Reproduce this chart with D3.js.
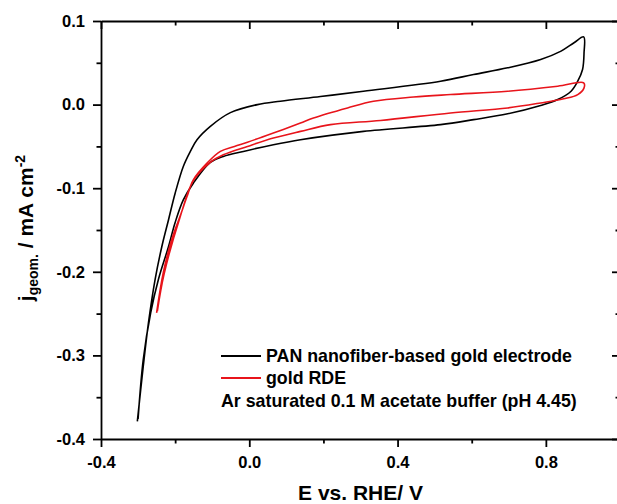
<!DOCTYPE html>
<html>
<head>
  <meta charset="utf-8">
  <title>CV - PAN nanofiber gold electrode vs gold RDE</title>
  <script src="https://d3js.org/d3.v7.min.js"></script>
  <style>
    body { margin: 0; background: #fff; }
    text { font-family: "Liberation Sans", Arial, sans-serif; font-weight: bold; fill: #000; }
    .axis path, .axis line { stroke: #000; stroke-width: 1.8; }
  </style>
</head>
<body>
<svg id="chart" width="617" height="504"></svg>
<script>
// PAN nanofiber-based gold electrode, one full cycle (anodic then cathodic)
var panE = [-0.302, -0.286, -0.272, -0.254, -0.236, -0.218, -0.200, -0.178, -0.159, -0.141, -0.105, -0.051,
            0.022, 0.084, 0.192, 0.308, 0.516, 0.605, 0.697, 0.786, 0.841, 0.876, 0.902,
            0.903, 0.899, 0.886, 0.868, 0.832, 0.786, 0.697, 0.605, 0.516, 0.308, 0.138, 0.065,
            -0.016, -0.070, -0.105, -0.151, -0.178, -0.200, -0.218, -0.245, -0.266, -0.286, -0.300];
var panJ = [-0.379, -0.313, -0.261, -0.209, -0.170, -0.138, -0.106, -0.074, -0.056, -0.042, -0.026, -0.0096,
            0.000, 0.004, 0.0096, 0.016, 0.028, 0.036, 0.044, 0.054, 0.064, 0.074, 0.081,
            0.062, 0.042, 0.028, 0.016, 0.006, -0.001, -0.011, -0.018, -0.024, -0.032, -0.042, -0.048,
            -0.056, -0.062, -0.069, -0.094, -0.114, -0.141, -0.170, -0.209, -0.249, -0.305, -0.376];

// gold RDE, one full cycle
var rdeE = [-0.250, -0.232, -0.209, -0.187, -0.168, -0.151, -0.114, -0.078, -0.040, -0.005, 0.065, 0.138,
            0.173, 0.265, 0.335, 0.443, 0.543, 0.697, 0.832, 0.902,
            0.903, 0.886, 0.848, 0.786, 0.697, 0.543, 0.354, 0.219, 0.138, 0.065, -0.005, -0.070,
            -0.105, -0.151, -0.187, -0.230, -0.248];
var rdeJ = [-0.249, -0.201, -0.161, -0.134, -0.110, -0.090, -0.070, -0.056, -0.050, -0.045, -0.034, -0.022,
            -0.016, -0.004, 0.004, 0.009, 0.012, 0.016, 0.022, 0.026,
            0.020, 0.012, 0.007, 0.002, -0.004, -0.010, -0.019, -0.024, -0.032, -0.040, -0.050, -0.060,
            -0.069, -0.091, -0.135, -0.203, -0.247];

var xMajor = [-0.4, 0.0, 0.4, 0.8];
var xMinor = [-0.2, 0.2, 0.6];
var yMajor = [0.1, 0.0, -0.1, -0.2, -0.3, -0.4];
var yMinor = [0.05, -0.05, -0.15, -0.25, -0.35];

var seriesNames = ["PAN nanofiber-based gold electrode", "gold RDE"];
var seriesColors = ["#000000", "#e8141b"];
var noteText = "Ar saturated 0.1 M acetate buffer (pH 4.45)";

var svg = d3.select("#chart");
var padL = 101, padR = 620, padT = 21, padB = 439;

var x = d3.scaleLinear().domain([-0.4, 1.0]).range([padL, padR]);
var y = d3.scaleLinear().domain([-0.4, 0.1]).range([padB, padT]);

var fmt = function(d) { return d.toFixed(1); };

// bottom axis, ticks outward
svg.append("g").attr("class", "axis").attr("transform", "translate(0," + padB + ")")
   .call(d3.axisBottom(x).tickValues(xMajor).tickSizeInner(8).tickSizeOuter(0).tickPadding(9).tickFormat(fmt))
   .call(function(g) { g.selectAll("text").style("font-size", "16.5px").attr("font-family", null); });
svg.append("g").attr("class", "axis").attr("transform", "translate(0," + padB + ")")
   .call(d3.axisBottom(x).tickValues(xMinor).tickSizeInner(4.5).tickSizeOuter(0).tickFormat(""))
   .call(function(g) { g.select(".domain").remove(); });

// left axis, ticks outward
svg.append("g").attr("class", "axis").attr("transform", "translate(" + padL + ",0)")
   .call(d3.axisLeft(y).tickValues(yMajor).tickSizeInner(8).tickSizeOuter(0).tickPadding(8).tickFormat(fmt))
   .call(function(g) { g.selectAll("text").style("font-size", "16.5px").attr("font-family", null); });
svg.append("g").attr("class", "axis").attr("transform", "translate(" + padL + ",0)")
   .call(d3.axisLeft(y).tickValues(yMinor).tickSizeInner(4.5).tickSizeOuter(0).tickFormat(""))
   .call(function(g) { g.select(".domain").remove(); });

// top axis, ticks inward
svg.append("g").attr("class", "axis").attr("transform", "translate(0," + padT + ")")
   .call(d3.axisTop(x).tickValues(xMajor).tickSizeInner(-8).tickSizeOuter(0).tickFormat(""));
svg.append("g").attr("class", "axis").attr("transform", "translate(0," + padT + ")")
   .call(d3.axisTop(x).tickValues(xMinor).tickSizeInner(-4.5).tickSizeOuter(0).tickFormat(""))
   .call(function(g) { g.select(".domain").remove(); });

// right axis, ticks inward
svg.append("g").attr("class", "axis").attr("transform", "translate(" + padR + ",0)")
   .call(d3.axisRight(y).tickValues(yMajor).tickSizeInner(-8).tickSizeOuter(0).tickFormat(""));
svg.append("g").attr("class", "axis").attr("transform", "translate(" + padR + ",0)")
   .call(d3.axisRight(y).tickValues(yMinor).tickSizeInner(-4.5).tickSizeOuter(0).tickFormat(""))
   .call(function(g) { g.select(".domain").remove(); });

// curves
var line = d3.line()
  .x(function(d) { return x(d[0]); })
  .y(function(d) { return y(d[1]); })
  .curve(d3.curveCatmullRom.alpha(0.5));

var curves = [d3.zip(panE, panJ), d3.zip(rdeE, rdeJ)];
svg.selectAll(".cv")
   .data(curves)
   .enter()
   .append("path")
   .attr("class", "cv")
   .attr("d", line)
   .attr("fill", "none")
   .attr("stroke", function(d, i) { return seriesColors[i]; })
   .attr("stroke-width", 1.6);

// legend
var legend = svg.append("g");
seriesNames.forEach(function(name, i) {
  var ly = 356 + i * 22;
  legend.append("line").attr("x1", 221).attr("x2", 261).attr("y1", ly).attr("y2", ly)
        .attr("stroke", seriesColors[i]).attr("stroke-width", 2);
  legend.append("text").attr("x", 266).attr("y", ly).attr("dy", "0.35em")
        .style("font-size", "17.8px").text(name);
});
legend.append("text").attr("x", 221).attr("y", 401).attr("dy", "0.35em")
      .style("font-size", "17.8px").text(noteText);

// axis titles
svg.append("text").attr("x", (padL + padR) / 2).attr("y", 500).attr("text-anchor", "middle")
   .style("font-size", "21px").text("E vs. RHE/ V");

var yt = svg.append("text").attr("transform", "translate(33,228) rotate(-90)")
   .attr("text-anchor", "middle").style("font-size", "21px");
yt.append("tspan").text("j");
yt.append("tspan").attr("dy", 5).style("font-size", "14px").text("geom.");
yt.append("tspan").attr("dy", -5).text(" / mA cm");
yt.append("tspan").attr("dy", -8).style("font-size", "14px").text("-2");
</script>
</body>
</html>
